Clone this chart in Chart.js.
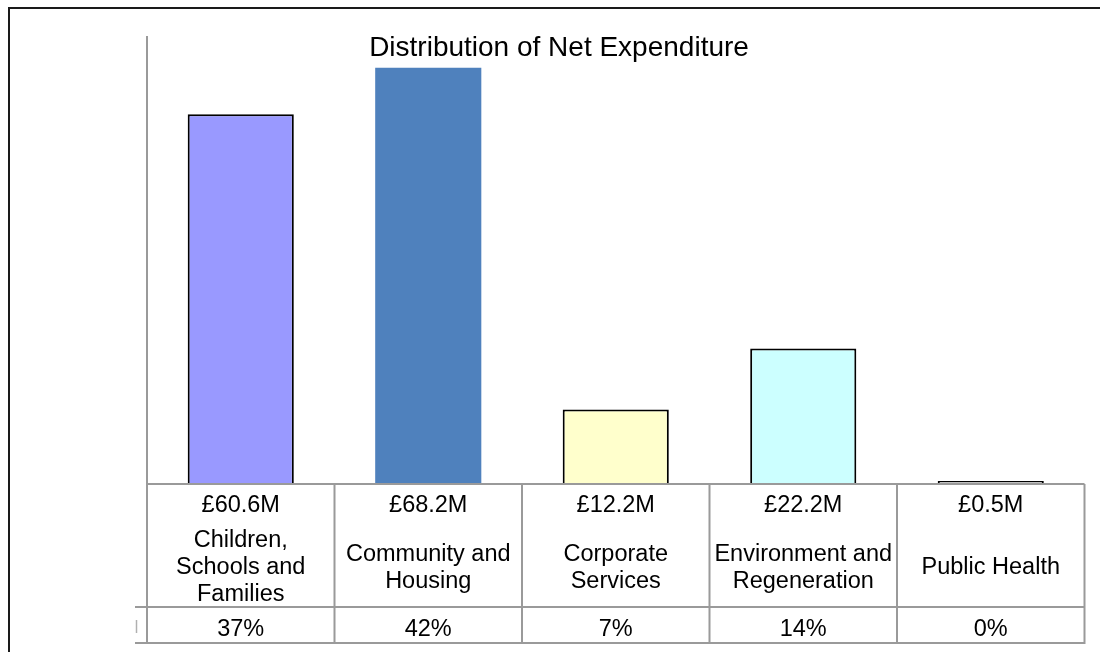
<!DOCTYPE html>
<html>
<head>
<meta charset="utf-8">
<script src="https://cdn.jsdelivr.net/npm/chart.js@4.4.1/dist/chart.umd.min.js"></script>
<style>
  html, body { margin: 0; padding: 0; background: #ffffff; }
  #wrap { width: 1100px; height: 652px; }
</style>
</head>
<body>
<div id="wrap"><canvas id="c" width="1100" height="652"></canvas></div>
<script>
// Net expenditure by directorate (£ millions) and share of the total
const categories = [
  ["Children,", "Schools and", "Families"],
  ["Community and", "Housing"],
  ["Corporate", "Services"],
  ["Environment and", "Regeneration"],
  ["Public Health"]
];
const spendMillions = [60.6, 68.2, 12.2, 22.2, 0.5];
const sharePercent = [37, 42, 7, 14, 0];
const barColours = ['#9999FF', '#4F81BD', '#FFFFCC', '#CCFFFF', '#FFFFFF'];
const barBorderWidths = [2, 0, 2, 2, 2];
const chartTitle = 'Distribution of Net Expenditure';

const FONT = '"Liberation Sans", Arial, sans-serif';
const GRID = '#9a9a9a';

// Draws the outer frame, the value axis, the title and the data table under the bars
const dataTablePlugin = {
  id: 'dataTable',
  afterDraw(chart) {
    const ctx = chart.ctx;
    const xs = chart.scales.x;
    const ys = chart.scales.y;
    const area = chart.chartArea;
    const n = categories.length;
    const cell = (area.right - area.left) / n;
    const top = ys.getPixelForValue(0);
    const rowSplit = top + 123;
    const bottom = top + 159;

    ctx.save();

    // outer frame (runs off the right and bottom edges)
    ctx.strokeStyle = '#1a1a1a';
    ctx.lineWidth = 2;
    ctx.beginPath();
    ctx.moveTo(9, 652); ctx.lineTo(9, 8); ctx.lineTo(1100, 8);
    ctx.stroke();

    // table grid
    ctx.strokeStyle = GRID;
    ctx.lineWidth = 2;
    ctx.beginPath();
    ctx.moveTo(area.left, area.top); ctx.lineTo(area.left, bottom + 1);
    ctx.moveTo(area.left, top); ctx.lineTo(area.right, top);
    ctx.moveTo(135, rowSplit); ctx.lineTo(area.right, rowSplit);
    ctx.moveTo(135, bottom); ctx.lineTo(area.right, bottom);
    for (let i = 0; i < n; i++) {
      const xr = xs.getPixelForValue(i) + cell / 2;
      ctx.moveTo(xr, top); ctx.lineTo(xr, bottom + 1);
    }
    ctx.stroke();

    // clipped legend key stub beside the percentage row
    ctx.strokeStyle = '#b0b0b0';
    ctx.lineWidth = 1.5;
    ctx.beginPath();
    ctx.moveTo(136.5, rowSplit + 13); ctx.lineTo(136.5, rowSplit + 26);
    ctx.stroke();

    // title
    ctx.fillStyle = '#000000';
    ctx.textAlign = 'center';
    ctx.textBaseline = 'alphabetic';
    ctx.font = '28px ' + FONT;
    ctx.fillText(chartTitle, 559, 56);

    // table text
    ctx.font = '23.5px ' + FONT;
    for (let i = 0; i < n; i++) {
      const cx = xs.getPixelForValue(i);
      ctx.fillText('£' + spendMillions[i].toFixed(1) + 'M', cx, top + 28);
      const lines = categories[i];
      const first = top + 90 - (lines.length - 1) * 13.5;
      lines.forEach((line, k) => ctx.fillText(line, cx, first + k * 27));
      ctx.fillText(sharePercent[i] + '%', cx, top + 152);
    }

    ctx.restore();
  }
};

new Chart(document.getElementById('c'), {
  type: 'bar',
  data: {
    labels: categories,
    datasets: [{
      data: spendMillions,
      backgroundColor: barColours,
      borderColor: '#000000',
      borderWidth: barBorderWidths,
      categoryPercentage: 1,
      barPercentage: 0.566
    }]
  },
  options: {
    responsive: false,
    animation: false,
    devicePixelRatio: 1,
    layout: { padding: { left: 147, right: 15.5, top: 36, bottom: 168 } },
    scales: {
      x: { display: false },
      y: { display: false, min: 0, max: 73.4 }
    },
    plugins: {
      legend: { display: false },
      tooltip: { enabled: false },
      title: { display: false }
    }
  },
  plugins: [dataTablePlugin]
});
</script>
</body>
</html>
